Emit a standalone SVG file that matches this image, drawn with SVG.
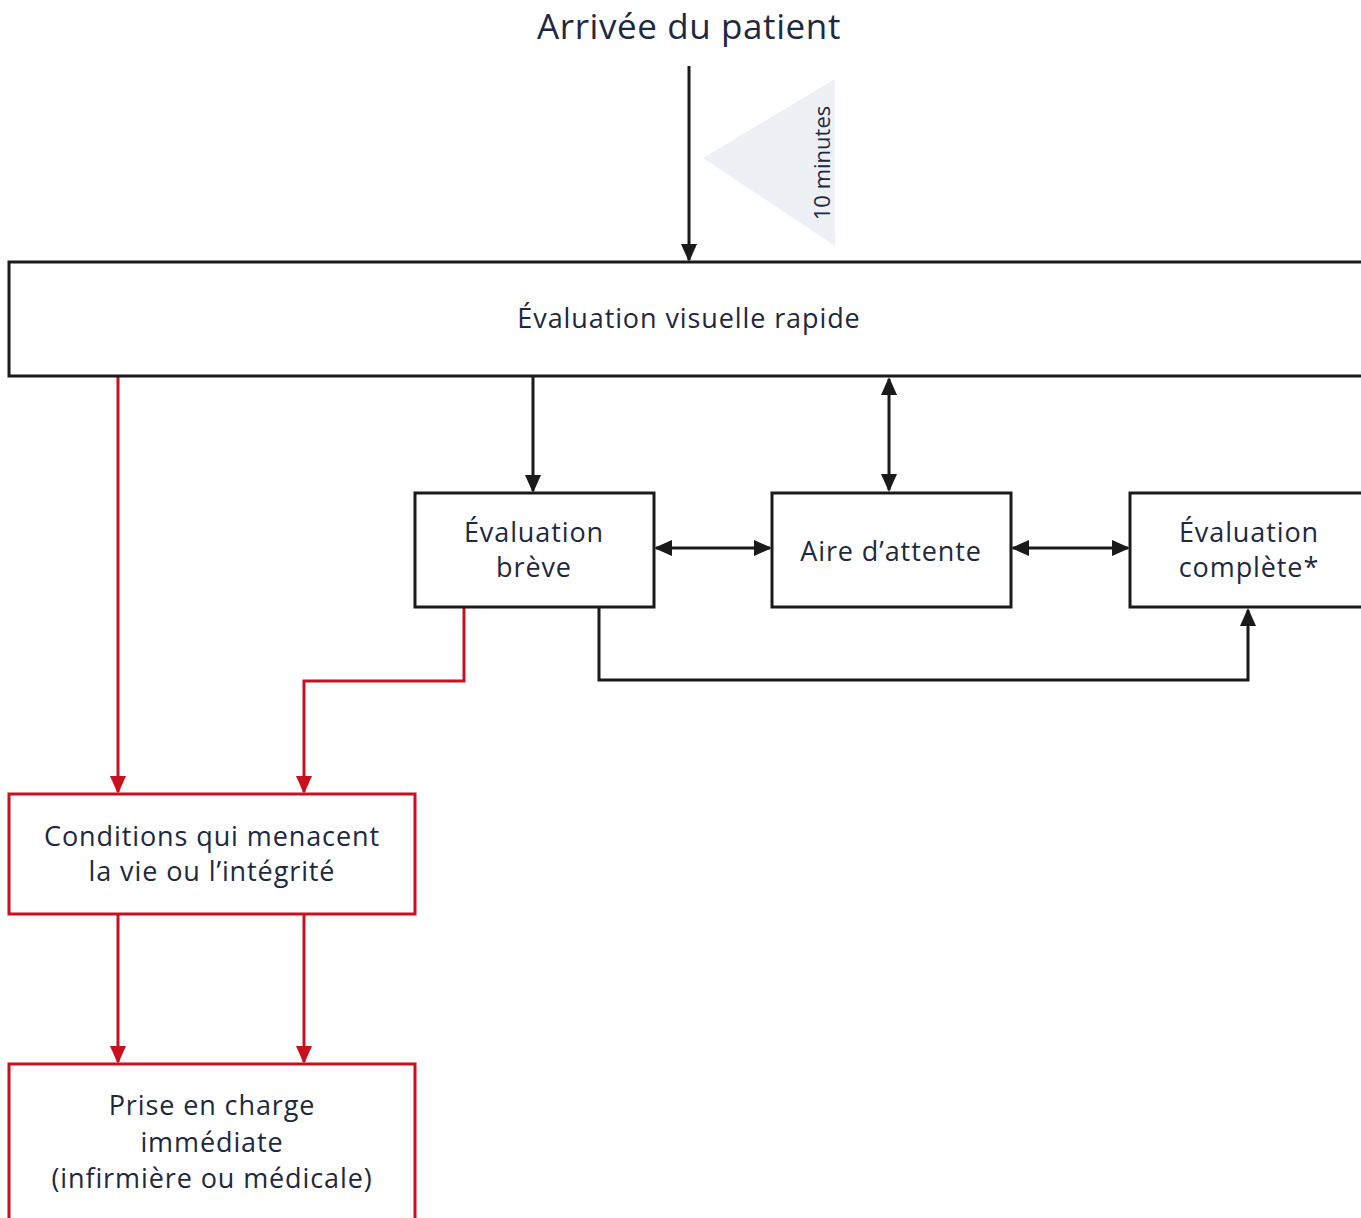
<svg xmlns="http://www.w3.org/2000/svg" width="1361" height="1218" viewBox="0 0 1361 1218">
<style>
.t{font-family:"Open Sans","Liberation Sans",sans-serif;fill:#1e2840;text-anchor:middle}
.lbl{font-size:27px;letter-spacing:0.9px}
.box{fill:#fff;stroke:#1a1a1a;stroke-width:3}
.rbox{fill:#fff;stroke:#c8101e;stroke-width:3}
.k{fill:none;stroke:#1a1a1a;stroke-width:3}
.r{fill:none;stroke:#c8101e;stroke-width:3}
</style>
<defs>
<marker id="ak" markerUnits="userSpaceOnUse" markerWidth="18" markerHeight="16" refX="16" refY="8" orient="auto-start-reverse" viewBox="0 0 18 16"><path d="M0,0 L18,8 L0,16 Z" fill="#1a1a1a"/></marker>
<marker id="ar" markerUnits="userSpaceOnUse" markerWidth="18" markerHeight="16" refX="16" refY="8" orient="auto" viewBox="0 0 18 16"><path d="M0,0 L18,8 L0,16 Z" fill="#c8101e"/></marker>
</defs>
<rect width="1361" height="1218" fill="#fff"/>
<text class="t" x="689" y="39" font-size="35" letter-spacing="0.6">Arrivée du patient</text>
<g id="timer">
<polygon points="703,158 835,79 835,246" fill="#edf0f5"/>
<text class="t" font-size="22" transform="translate(830,163) rotate(-90)">10 minutes</text>
</g>
<g id="connectors">
<line class="k" x1="689" y1="66" x2="689" y2="260" marker-end="url(#ak)"/>
<line class="k" x1="533" y1="377" x2="533" y2="491" marker-end="url(#ak)"/>
<line class="k" x1="889" y1="379" x2="889" y2="490" marker-start="url(#ak)" marker-end="url(#ak)"/>
<line class="k" x1="656" y1="548" x2="770" y2="548" marker-start="url(#ak)" marker-end="url(#ak)"/>
<line class="k" x1="1013" y1="548" x2="1128" y2="548" marker-start="url(#ak)" marker-end="url(#ak)"/>
<polyline class="k" points="599,608 599,680 1248,680 1248,610" marker-end="url(#ak)"/>
<line class="r" x1="118" y1="377" x2="118" y2="792" marker-end="url(#ar)"/>
<polyline class="r" points="464,608 464,681 304,681 304,792" marker-end="url(#ar)"/>
<line class="r" x1="118" y1="915" x2="118" y2="1062" marker-end="url(#ar)"/>
<line class="r" x1="304" y1="915" x2="304" y2="1062" marker-end="url(#ar)"/>
</g>
<g id="evaluation-visuelle">
<rect class="box" x="9" y="262" width="1370" height="114"/>
<text class="t lbl" x="689" y="328">Évaluation visuelle rapide</text>
</g>
<g id="evaluation-breve">
<rect class="box" x="415" y="493" width="239" height="114"/>
<text class="t lbl" x="534" y="542">Évaluation</text>
<text class="t lbl" x="534" y="577">brève</text>
</g>
<g id="aire-attente">
<rect class="box" x="772" y="493" width="239" height="114"/>
<text class="t lbl" x="891" y="561">Aire d’attente</text>
</g>
<g id="evaluation-complete">
<rect class="box" x="1130" y="493" width="250" height="114"/>
<text class="t lbl" x="1249" y="542">Évaluation</text>
<text class="t lbl" x="1249" y="577">complète*</text>
</g>
<g id="conditions">
<rect class="rbox" x="9" y="794" width="406" height="120"/>
<text class="t lbl" x="212" y="846">Conditions qui menacent</text>
<text class="t lbl" x="212" y="881">la vie ou l’intégrité</text>
</g>
<g id="prise-en-charge">
<rect class="rbox" x="9" y="1064" width="406" height="170"/>
<text class="t lbl" x="212" y="1115">Prise en charge</text>
<text class="t lbl" x="212" y="1152">immédiate</text>
<text class="t lbl" x="212" y="1188">(infirmière ou médicale)</text>
</g>
</svg>
